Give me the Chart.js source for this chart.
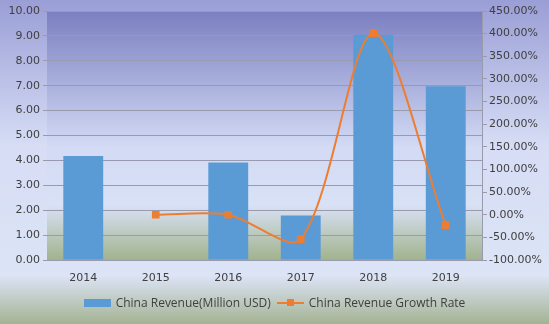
<!DOCTYPE html>
<html>
<head>
<meta charset="utf-8">
<script src="https://cdn.jsdelivr.net/npm/chart.js@4"></script>
<style>
  html, body { margin: 0; padding: 0; }
  #wrap { position: relative; width: 549px; height: 324px; }
  #legend {
    position: absolute; left: 0; right: 0; top: 294px;
    display: flex; justify-content: center; align-items: center;
    font-family: "Open Sans", "DejaVu Sans", sans-serif; font-size: 12px; color: #404040;
  }
  .lg-item { display: flex; align-items: center; margin: 0 3px; }
  .lg-bar { width: 27px; height: 8px; background: #5b9bd5; margin-right: 5px; }
  .lg-line { position: relative; width: 27px; height: 2px; background: #ed7d31; margin-right: 5px; }
  .lg-line span { position: absolute; left: 10px; top: -3px; width: 7px; height: 7px; background: #ed7d31; }
</style>
</head>
<body>
<div id="wrap">
  <canvas id="chart" width="549" height="324"></canvas>
  <div id="legend">
    <div class="lg-item"><div class="lg-bar"></div>China Revenue(Million USD)</div>
    <div class="lg-item"><div class="lg-line"><span></span></div>China Revenue Growth Rate</div>
  </div>
</div>
<script>
const years = ['2014', '2015', '2016', '2017', '2018', '2019'];
const revenue = [4.18, 0, 3.92, 1.79, 9.05, 6.98];
const growthRate = [null, 0, 0, -54, 401, -23];

const bgPlugin = {
  id: 'bg',
  beforeDraw(chart) {
    const { ctx, chartArea: a, width, height } = chart;
    ctx.save();
    const g = ctx.createLinearGradient(0, 0, 0, height);
    g.addColorStop(0, '#9a9ed6');
    g.addColorStop(0.45, '#d6ddf5');
    g.addColorStop(0.85, '#dce4f6');
    g.addColorStop(1, '#a3b392');
    ctx.fillStyle = g;
    ctx.fillRect(0, 0, width, height);
    const p = ctx.createLinearGradient(0, a.top, 0, a.bottom);
    p.addColorStop(0, '#7b7fc0');
    p.addColorStop(0.55, '#d3dbf5');
    p.addColorStop(0.78, '#d9e1f5');
    p.addColorStop(1, '#a1b38d');
    ctx.fillStyle = p;
    ctx.fillRect(a.left, a.top, a.right - a.left, a.bottom - a.top);
    ctx.restore();
  }
};

const tickFont = { family: '"DejaVu Sans", sans-serif', size: 11 };

new Chart(document.getElementById('chart'), {
  type: 'bar',
  data: {
    labels: years,
    datasets: [
      {
        type: 'line', label: 'China Revenue Growth Rate', data: growthRate,
        borderColor: '#ed7d31', backgroundColor: '#ed7d31', borderWidth: 2,
        pointStyle: 'rect', pointRadius: 4, tension: 0.3, yAxisID: 'yRate', order: 1,
      },
      {
        type: 'bar', label: 'China Revenue(Million USD)', data: revenue,
        backgroundColor: '#5b9bd5', yAxisID: 'y', order: 2,
        categoryPercentage: 1, barPercentage: 0.55,
      },
    ],
  },
  options: {
    responsive: false, animation: false,
    layout: { padding: { top: 11, left: 0, right: 0, bottom: 0 } },
    plugins: { legend: { display: false }, tooltip: { enabled: false } },
    scales: {
      x: {
        grid: { display: false },
        border: { display: false },
        ticks: { color: '#404040', font: tickFont, padding: 4 },
        afterFit(s) { s.height = 64; },
      },
      y: {
        position: 'left', min: 0, max: 10,
        ticks: { stepSize: 1, color: '#404040', font: tickFont, padding: 3, callback: v => v.toFixed(2) },
        grid: { color: '#9a9aae', lineWidth: 1, tickLength: 4 },
        border: { display: false },
        afterFit(s) { s.width = 47; },
      },
      yRate: {
        position: 'right', min: -100, max: 450,
        ticks: { stepSize: 50, color: '#404040', font: tickFont, padding: 2, callback: v => v.toFixed(2) + '%' },
        grid: { drawOnChartArea: false, color: '#9a9aae', tickLength: 5 },
        border: { display: true, color: '#9a9aae' },
        afterFit(s) { s.width = 67; },
      },
    },
  },
  plugins: [bgPlugin],
});
</script>
</body>
</html>
